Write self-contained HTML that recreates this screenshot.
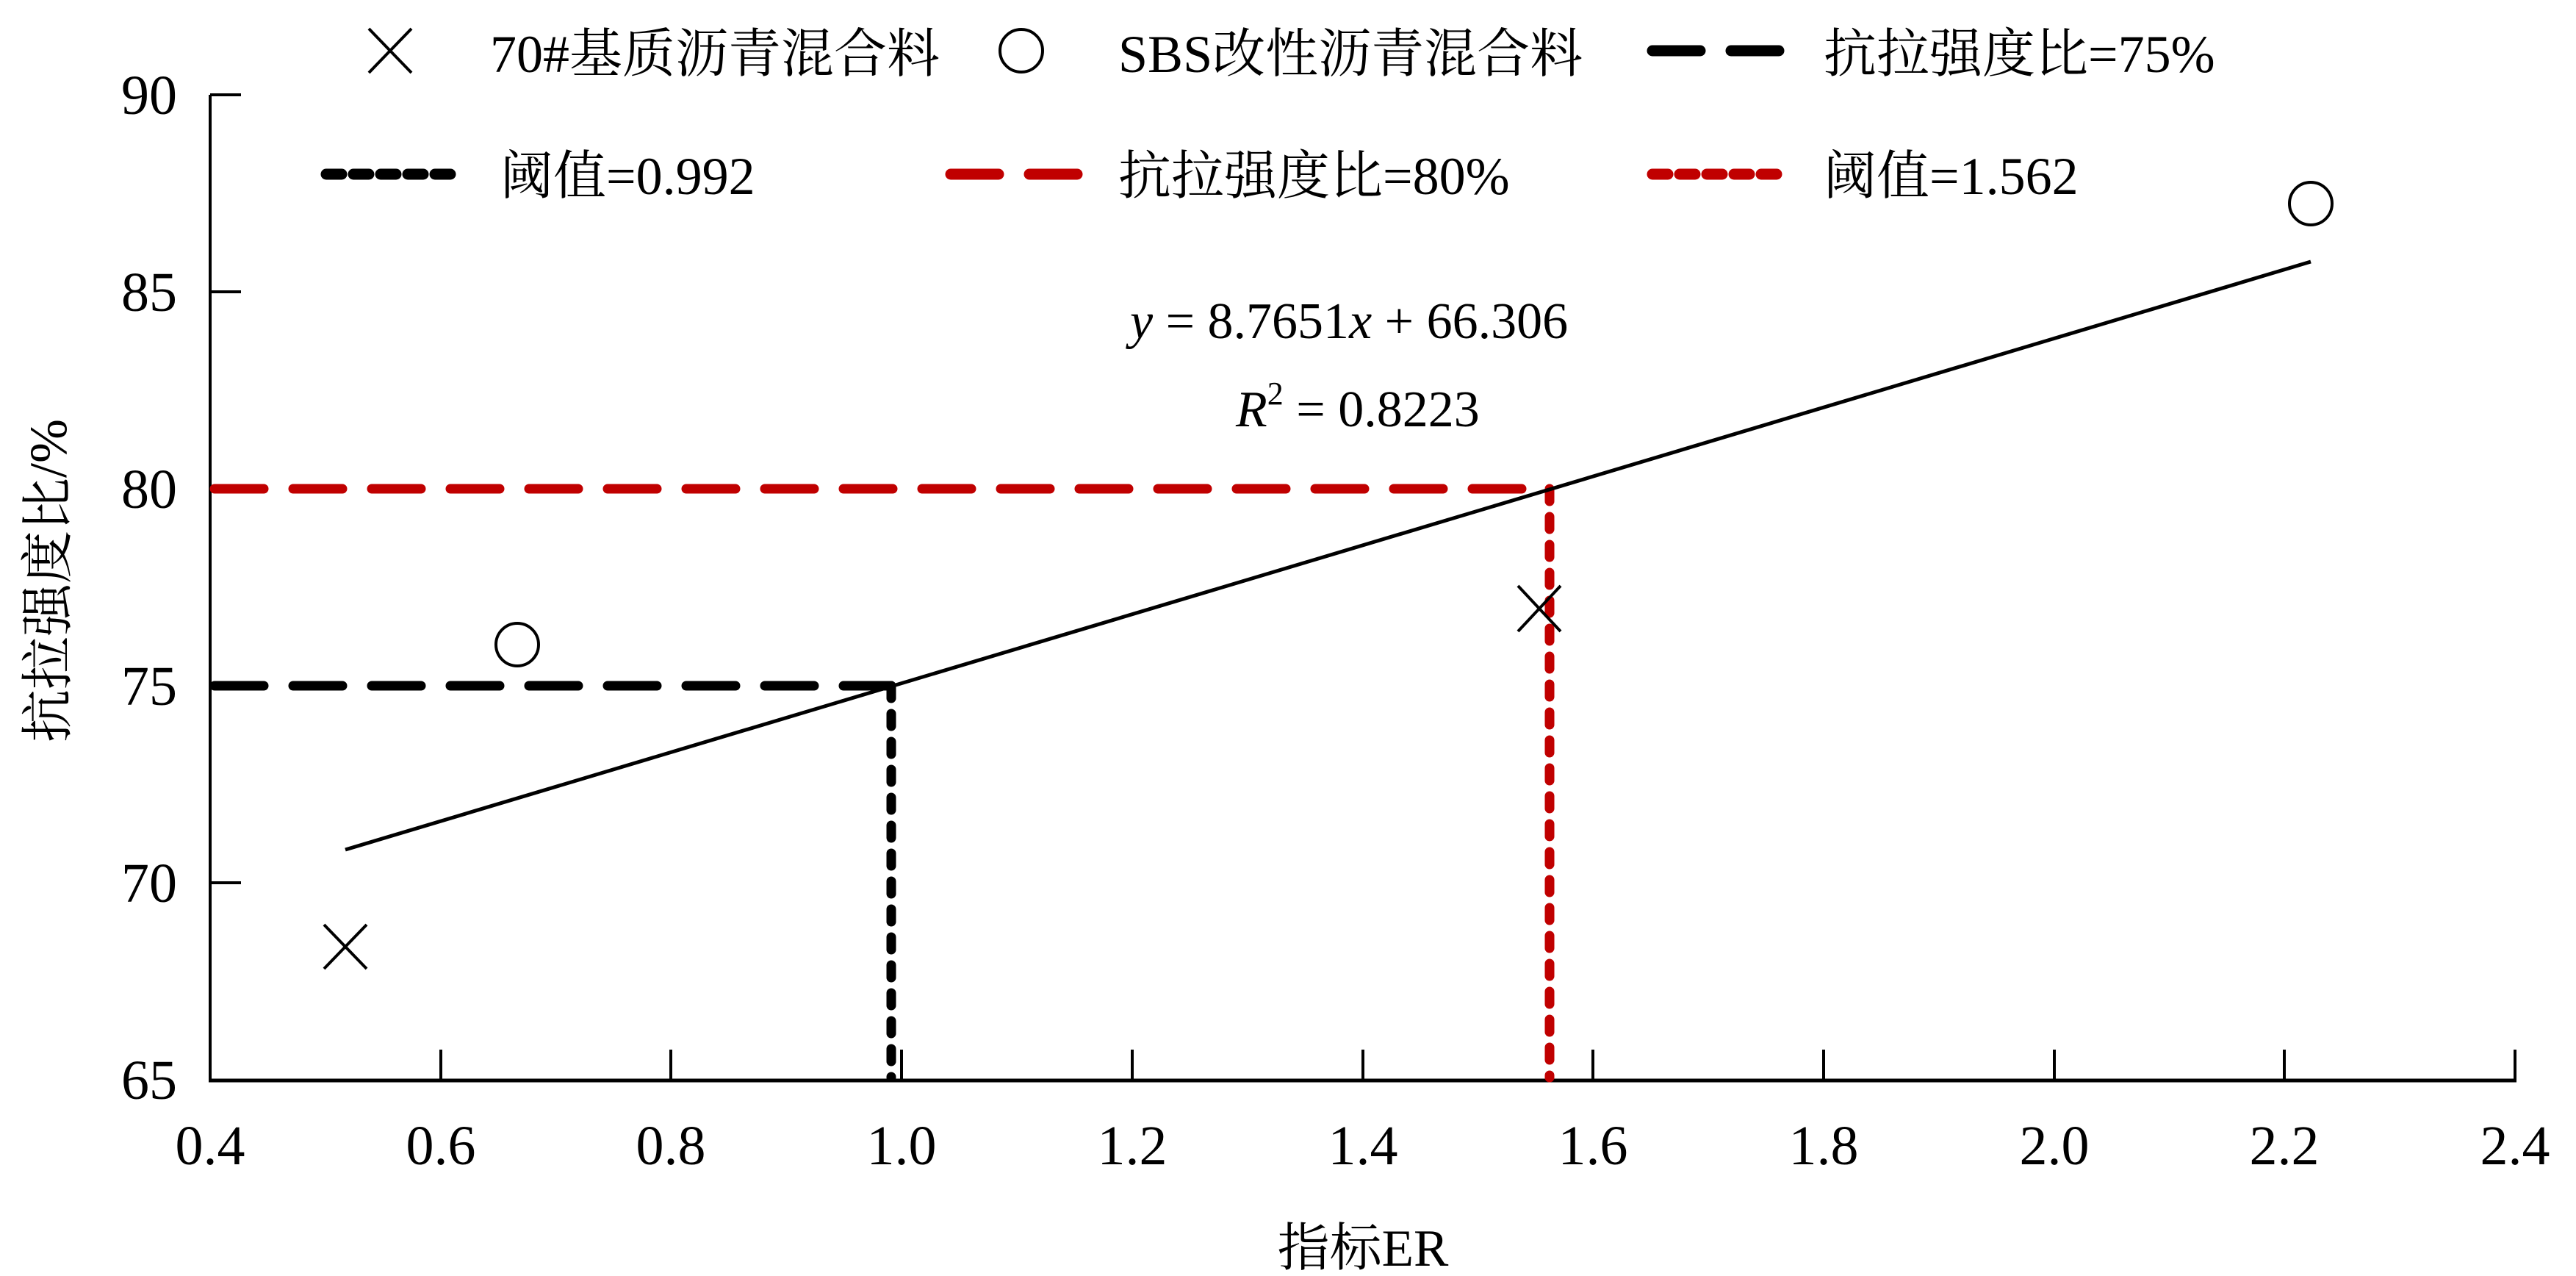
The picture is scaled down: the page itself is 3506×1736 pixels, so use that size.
<!DOCTYPE html>
<html><head><meta charset="utf-8"><style>
html,body{margin:0;padding:0;background:#fff;}
svg{display:block;}
text{font-family:"Liberation Serif","Noto Serif CJK SC",serif;fill:#000;}
.l{font-family:"Liberation Serif",serif;}
</style></head><body>
<svg width="3506" height="1736" viewBox="0 0 3506 1736" xmlns="http://www.w3.org/2000/svg">
<line x1="286" y1="129" x2="286" y2="1470" stroke="#000" stroke-width="4"/>
<line x1="284" y1="1470" x2="3425" y2="1470" stroke="#000" stroke-width="5"/>
<g stroke="#000" stroke-width="4">
<line x1="286" y1="129" x2="328" y2="129"/>
<line x1="286" y1="397" x2="328" y2="397"/>
<line x1="286" y1="665" x2="328" y2="665"/>
<line x1="286" y1="933" x2="328" y2="933"/>
<line x1="286" y1="1201" x2="328" y2="1201"/>
<line x1="600" y1="1470" x2="600" y2="1428"/>
<line x1="913" y1="1470" x2="913" y2="1428"/>
<line x1="1227" y1="1470" x2="1227" y2="1428"/>
<line x1="1541" y1="1470" x2="1541" y2="1428"/>
<line x1="1855" y1="1470" x2="1855" y2="1428"/>
<line x1="2168" y1="1470" x2="2168" y2="1428"/>
<line x1="2482" y1="1470" x2="2482" y2="1428"/>
<line x1="2796" y1="1470" x2="2796" y2="1428"/>
<line x1="3109" y1="1470" x2="3109" y2="1428"/>
<line x1="3423" y1="1470" x2="3423" y2="1428"/>
</g>
<g font-size="76" text-anchor="end" class="l">
<text x="241" y="155" class="l">90</text>
<text x="241" y="423" class="l">85</text>
<text x="241" y="691" class="l">80</text>
<text x="241" y="959" class="l">75</text>
<text x="241" y="1227" class="l">70</text>
<text x="241" y="1495" class="l">65</text>
</g>
<g font-size="76" text-anchor="middle">
<text x="286" y="1584" class="l">0.4</text>
<text x="600" y="1584" class="l">0.6</text>
<text x="913" y="1584" class="l">0.8</text>
<text x="1227" y="1584" class="l">1.0</text>
<text x="1541" y="1584" class="l">1.2</text>
<text x="1855" y="1584" class="l">1.4</text>
<text x="2168" y="1584" class="l">1.6</text>
<text x="2482" y="1584" class="l">1.8</text>
<text x="2796" y="1584" class="l">2.0</text>
<text x="3109" y="1584" class="l">2.2</text>
<text x="3423" y="1584" class="l">2.4</text>
</g>
<text x="1855" y="1722" font-size="71" text-anchor="middle">指标<tspan class="l">ER</tspan></text>
<text transform="translate(90,790) rotate(-90)" font-size="72" text-anchor="middle">抗拉强度比<tspan class="l">/%</tspan></text>
<line x1="292" y1="665" x2="2109" y2="665" stroke="#c00000" stroke-width="13" stroke-linecap="round" stroke-dasharray="67 40"/>
<line x1="292" y1="933" x2="1213" y2="933" stroke="#000" stroke-width="13" stroke-linecap="round" stroke-dasharray="67 40"/>
<line x1="1213" y1="933" x2="1213" y2="1466" stroke="#000" stroke-width="13" stroke-linecap="round" stroke-dasharray="17 21"/>
<line x1="2109" y1="665" x2="2109" y2="1466" stroke="#c00000" stroke-width="13" stroke-linecap="round" stroke-dasharray="17 21"/>
<line x1="470" y1="1156" x2="3145" y2="356" stroke="#000" stroke-width="5"/>
<g stroke="#000" stroke-width="4" fill="none">
<path d="M441 1258 L499 1318 M499 1258 L441 1318"/>
<path d="M2066 797 L2124 859 M2124 797 L2066 859"/>
<circle cx="704" cy="877" r="29"/>
<circle cx="3145" cy="277" r="29"/>
<path d="M502 39 L560 99 M560 39 L502 99"/>
<circle cx="1390" cy="69" r="29"/>
</g>
<text x="1538" y="460" font-size="70" class="l"><tspan font-style="italic">y</tspan> = 8.7651<tspan font-style="italic">x</tspan> + 66.306</text>
<text x="1682" y="580" font-size="70" class="l"><tspan font-style="italic">R</tspan><tspan font-size="44" dy="-30">2</tspan><tspan dy="30"> = 0.8223</tspan></text>
<g font-size="72">
<text x="667" y="98"><tspan class="l">70#</tspan>基质沥青混合料</text>
<text x="1522" y="98"><tspan class="l">SBS</tspan>改性沥青混合料</text>
<text x="2482" y="98">抗拉强度比<tspan class="l">=75%</tspan></text>
<text x="681" y="264">阈值<tspan class="l">=0.992</tspan></text>
<text x="1522" y="264">抗拉强度比<tspan class="l">=80%</tspan></text>
<text x="2482" y="264">阈值<tspan class="l">=1.562</tspan></text>
</g>
<line x1="2249" y1="69" x2="2421" y2="69" stroke="#000" stroke-width="15" stroke-linecap="round" stroke-dasharray="65 42"/>
<line x1="444" y1="237" x2="617" y2="237" stroke="#000" stroke-width="15" stroke-linecap="round" stroke-dasharray="21 16"/>
<line x1="1294" y1="237" x2="1466" y2="237" stroke="#c00000" stroke-width="15" stroke-linecap="round" stroke-dasharray="65 42"/>
<line x1="2249" y1="237" x2="2421" y2="237" stroke="#c00000" stroke-width="15" stroke-linecap="round" stroke-dasharray="21 16"/>
</svg>
</body></html>
